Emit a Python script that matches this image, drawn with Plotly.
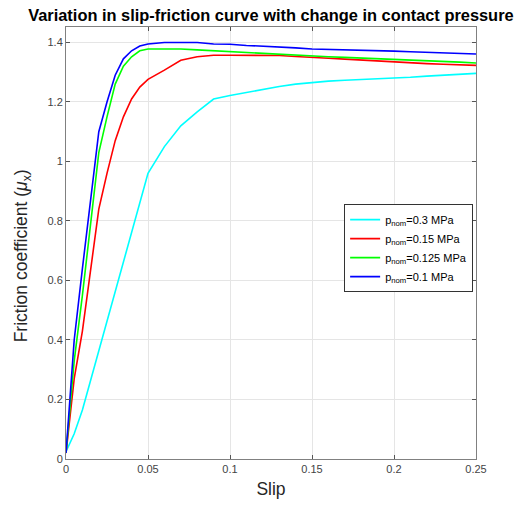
import plotly.graph_objects as go

slip = [0, 0.005, 0.01, 0.015, 0.02, 0.025, 0.03, 0.035, 0.04, 0.045, 0.05,
        0.06, 0.07, 0.08, 0.09, 0.10, 0.11, 0.12, 0.13, 0.14, 0.15,
        0.16, 0.17, 0.18, 0.19, 0.20, 0.21, 0.22, 0.23, 0.24, 0.25]

mu_p03 = [0.025, 0.085, 0.165, 0.265, 0.365, 0.46, 0.56, 0.66, 0.76, 0.86, 0.96,
          1.05, 1.12, 1.167, 1.21, 1.222, 1.232, 1.243, 1.252, 1.26, 1.266,
          1.27, 1.273, 1.275, 1.277, 1.28, 1.283, 1.287, 1.29, 1.293, 1.296]

mu_p015 = [0.02, 0.27, 0.43, 0.64, 0.84, 0.96, 1.07, 1.15, 1.21, 1.25, 1.276,
           1.307, 1.34, 1.352, 1.357, 1.357, 1.357, 1.357, 1.356, 1.353, 1.349,
           1.347, 1.344, 1.341, 1.337, 1.333, 1.331, 1.329, 1.327, 1.325, 1.323]

mu_p0125 = [0.02, 0.33, 0.55, 0.79, 1.03, 1.15, 1.26, 1.32, 1.352, 1.372, 1.378,
            1.378, 1.378, 1.375, 1.372, 1.37, 1.366, 1.362, 1.36, 1.357, 1.354,
            1.352, 1.35, 1.348, 1.345, 1.342, 1.34, 1.338, 1.336, 1.334, 1.331]

mu_p01 = [0.02, 0.40, 0.64, 0.88, 1.10, 1.20, 1.29, 1.345, 1.372, 1.388, 1.395,
          1.40, 1.40, 1.40, 1.395, 1.394, 1.39, 1.388, 1.386, 1.382, 1.378,
          1.377, 1.376, 1.375, 1.372, 1.371, 1.369, 1.367, 1.365, 1.363, 1.361]

series_names = ["p<sub>nom</sub>=0.3 MPa", "p<sub>nom</sub>=0.15 MPa",
                "p<sub>nom</sub>=0.125 MPa", "p<sub>nom</sub>=0.1 MPa"]
series_values = [mu_p03, mu_p015, mu_p0125, mu_p01]
series_colors = ["#00FFFF", "#FF0000", "#00FF00", "#0000FF"]

x_ticks = [0, 0.05, 0.1, 0.15, 0.2, 0.25]
y_ticks = [0, 0.2, 0.4, 0.6, 0.8, 1.0, 1.2, 1.4]

FONT = "Liberation Sans, Arial, Helvetica, sans-serif"
AX = "#262626"

fig = go.Figure()
for name, vals, col in zip(series_names, series_values, series_colors):
    fig.add_trace(go.Scatter(x=slip, y=vals, mode="lines", name=name,
                             line=dict(color=col, width=1.6)))

axis_common = dict(
    showline=True, linecolor="#808080", linewidth=1, mirror="ticks",
    ticks="inside", ticklen=4, tickcolor="#555555",
    showgrid=True, gridcolor="#E5E5E5", gridwidth=1,
    zeroline=False, tickfont=dict(family=FONT, size=11, color="#444444"),
    automargin=False,
)

fig.update_layout(
    width=516, height=505,
    margin=dict(l=66, r=40, t=27, b=46, autoexpand=False),
    paper_bgcolor="white", plot_bgcolor="white",
    font=dict(family=FONT, color=AX),
    title=dict(text="<b>Variation in slip-friction curve with change in contact pressure</b>",
               x=0.525, xanchor="center", y=0.970, yanchor="middle",
               font=dict(family=FONT, size=16.4, color="#000000")),
    xaxis=dict(range=[0, 0.25], tickvals=x_ticks,
               title=dict(text="Slip", font=dict(family=FONT, size=17.5, color=AX), standoff=8),
               **axis_common),
    yaxis=dict(range=[0, 1.452], tickvals=y_ticks, **axis_common),
    legend=dict(x=0.993, xanchor="right", y=0.59, yanchor="top",
                bgcolor="white", bordercolor="#333333", borderwidth=1,
                font=dict(family=FONT, size=11, color="#000000"),
                itemwidth=30, tracegroupgap=0),
    showlegend=True,
)

fig.add_annotation(text="Friction coefficient (<i>μ</i><sub>x</sub>)",
                   xref="paper", yref="paper", x=-0.104, y=0.47,
                   xanchor="center", yanchor="middle", textangle=-90,
                   showarrow=False, font=dict(family=FONT, size=17.5, color=AX))

fig.write_html("out.html", config={"displayModeBar": False},
               post_script="document.body.style.margin='0';")
